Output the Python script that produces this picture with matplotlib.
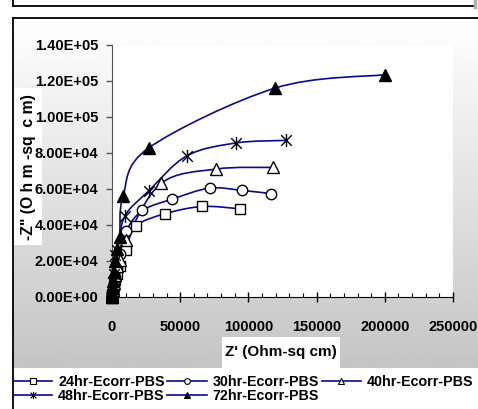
import numpy as np
import matplotlib.pyplot as plt
from matplotlib.path import Path
from matplotlib.patches import PathPatch, Rectangle
from matplotlib.lines import Line2D
from matplotlib.ticker import FuncFormatter

plt.rcParams['font.family'] = ['Liberation Sans', 'DejaVu Sans']
plt.rcParams['font.weight'] = 'bold'

# Nyquist data: Z' and -Z'' (Ohm-sq cm) for each immersion time
zre_24 = [100, 150, 300, 600, 1100, 2000, 3500, 6150, 10000, 17900, 39100, 66300, 93600]
zim_24 = [0, 300, 1200, 3000, 6000, 9500, 13000, 17000, 26300, 39600, 46300, 50300, 49000]

zre_30 = [100, 150, 300, 600, 1100, 2000, 3500, 6000, 10500, 22300, 44300, 71600, 95600, 116800]
zim_30 = [0, 400, 1500, 3500, 7000, 11000, 16000, 24000, 36800, 48100, 54400, 60500, 59200, 57400]

zre_40 = [100, 150, 300, 600, 1100, 2000, 3500, 6200, 10500, 35900, 76500, 118000]
zim_40 = [0, 400, 1600, 4000, 8000, 12500, 17000, 20700, 31800, 63100, 71100, 72000]

zre_48 = [100, 150, 300, 600, 1000, 1700, 2000, 4000, 9300, 27000, 55000, 91200, 127300]
zim_48 = [0, 500, 1800, 4500, 8500, 13000, 23500, 26000, 44800, 59000, 78500, 85600, 87000]

zre_72 = [100, 150, 300, 600, 1000, 1600, 2500, 3800, 5640, 8070, 26900, 119700, 200000]
zim_72 = [0, 500, 2000, 5000, 9000, 14000, 20000, 26500, 33500, 55900, 82800, 116100, 123500]

labels = ['24hr-Ecorr-PBS', '30hr-Ecorr-PBS', '40hr-Ecorr-PBS',
          '48hr-Ecorr-PBS', '72hr-Ecorr-PBS']

# six-armed star: vertical bar plus an X
star = Path([(0, -1), (0, 1), (-0.8, -0.8), (0.8, 0.8), (-0.8, 0.8), (0.8, -0.8)],
            [Path.MOVETO, Path.LINETO] * 3)

styles = [
    dict(marker='s', mfc='white', ms=7.5),
    dict(marker='o', mfc='white', ms=7.5),
    dict(marker='^', mfc='white', ms=8.5),
    dict(marker=star, mfc='none', ms=9.5),
    dict(marker='^', mfc='black', ms=8.5),
]
series = [(zre_24, zim_24), (zre_30, zim_30), (zre_40, zim_40),
          (zre_48, zim_48), (zre_72, zim_72)]

line_color = '#0a0a8c'


def smooth_path(x, y):
    # bezier segments through the points (spreadsheet-style smoothed line)
    p = np.column_stack([x, y]).astype(float)
    n = len(p)
    verts = [p[0]]
    codes = [Path.MOVETO]
    for i in range(n - 1):
        p0 = p[i - 1] if i > 0 else p[i]
        p3 = p[i + 2] if i + 2 < n else p[i + 1]
        c1 = p[i] + (p[i + 1] - p0) / 6
        c2 = p[i + 1] - (p3 - p[i]) / 6
        verts += [c1, c2, p[i + 1]]
        codes += [Path.CURVE4] * 3
    return Path(verts, codes)


W, H = 478, 409
fig = plt.figure(figsize=(W / 100, H / 100), dpi=100)

# background layer in pixel coordinates
bg = fig.add_axes([0, 0, 1, 1], zorder=-5)
bg.axis('off')
grad = np.linspace(1.0, 0.77, 256).reshape(-1, 1)
bg.imshow(grad, cmap='gray', vmin=0, vmax=1, extent=[13, W, 368, 18], aspect='auto')
bg.add_patch(Rectangle((13, 368), W - 13, H - 368, fc='white', ec='none'))
bg.plot([13, W], [18, 18], color='black', lw=1.3)
bg.plot([13, 13], [18, H], color='black', lw=1.3)
bg.plot([13, 474], [6, 6], color='black', lw=1.3)
bg.plot([13, 13], [0, 6], color='black', lw=1.3)
bg.plot([475, 475], [0, 7], color='#b0b0b0', lw=2.5)
bg.set_xlim(0, W)
bg.set_ylim(H, 0)

# axis titles on white boxes
bg.add_patch(Rectangle((14, 88), 28, 157, fc='white', ec='none'))
bg.text(29, 167, '-Z" (O h m -sq  c m)', rotation=90, ha='center', va='center', fontsize=11.3)
bg.add_patch(Rectangle((222, 337), 118, 31, fc='white', ec='none'))
bg.text(281, 352, "Z' (Ohm-sq cm)", ha='center', va='center', fontsize=11)

ax = fig.add_axes([112 / W, 1 - 297 / H, 341 / W, 252 / H])
ax.set_facecolor('white')

for (x, y), st in zip(series, styles):
    ax.add_patch(PathPatch(smooth_path(x, y), fc='none', ec=line_color, lw=1.2, zorder=2))
    ax.plot(x, y, ls='none', mec='black', mew=1.0, zorder=3, clip_on=False, **st)

ax.set_xlim(0, 250000)
ax.set_ylim(0, 140000)
ax.set_xticks(np.arange(0, 250001, 50000))
ax.set_xticks(np.arange(0, 250001, 10000), minor=True)
ax.set_yticks(np.arange(0, 140001, 20000))
ax.yaxis.set_major_formatter(FuncFormatter(lambda v, p: '%.2E' % v))
ax.xaxis.set_major_formatter(FuncFormatter(lambda v, p: '%d' % v))
ax.tick_params(axis='x', which='major', direction='inout', length=7, width=1, pad=13, labelsize=10.5)
ax.tick_params(axis='x', which='minor', direction='in', length=3, width=0.8)
ax.tick_params(axis='y', which='major', direction='out', length=4, width=1,
               pad=6, labelsize=10.5, color='#555555')
for s in ['top', 'right']:
    ax.spines[s].set_visible(False)
ax.spines['left'].set_color('#555555')
ax.spines['bottom'].set_color('black')

# legend: small markers, row-major order
handles = []
for st, lab in zip(styles, labels):
    st2 = dict(st)
    st2['ms'] = st['ms'] * 0.55
    handles.append(Line2D([], [], color=line_color, lw=1.2, mec='black', mew=0.8,
                          label=lab, **st2))
order = [0, 3, 1, 4, 2]
fig.legend([handles[i] for i in order], [labels[i] for i in order],
           ncol=3, loc='upper left', bbox_to_anchor=(13 / W, 1 - 375 / H),
           frameon=False, borderpad=0, borderaxespad=0, fontsize=10.3,
           handlelength=2.75, handletextpad=0.4, columnspacing=0.2, labelspacing=0.0)

fig.savefig('out.png', dpi=100)
